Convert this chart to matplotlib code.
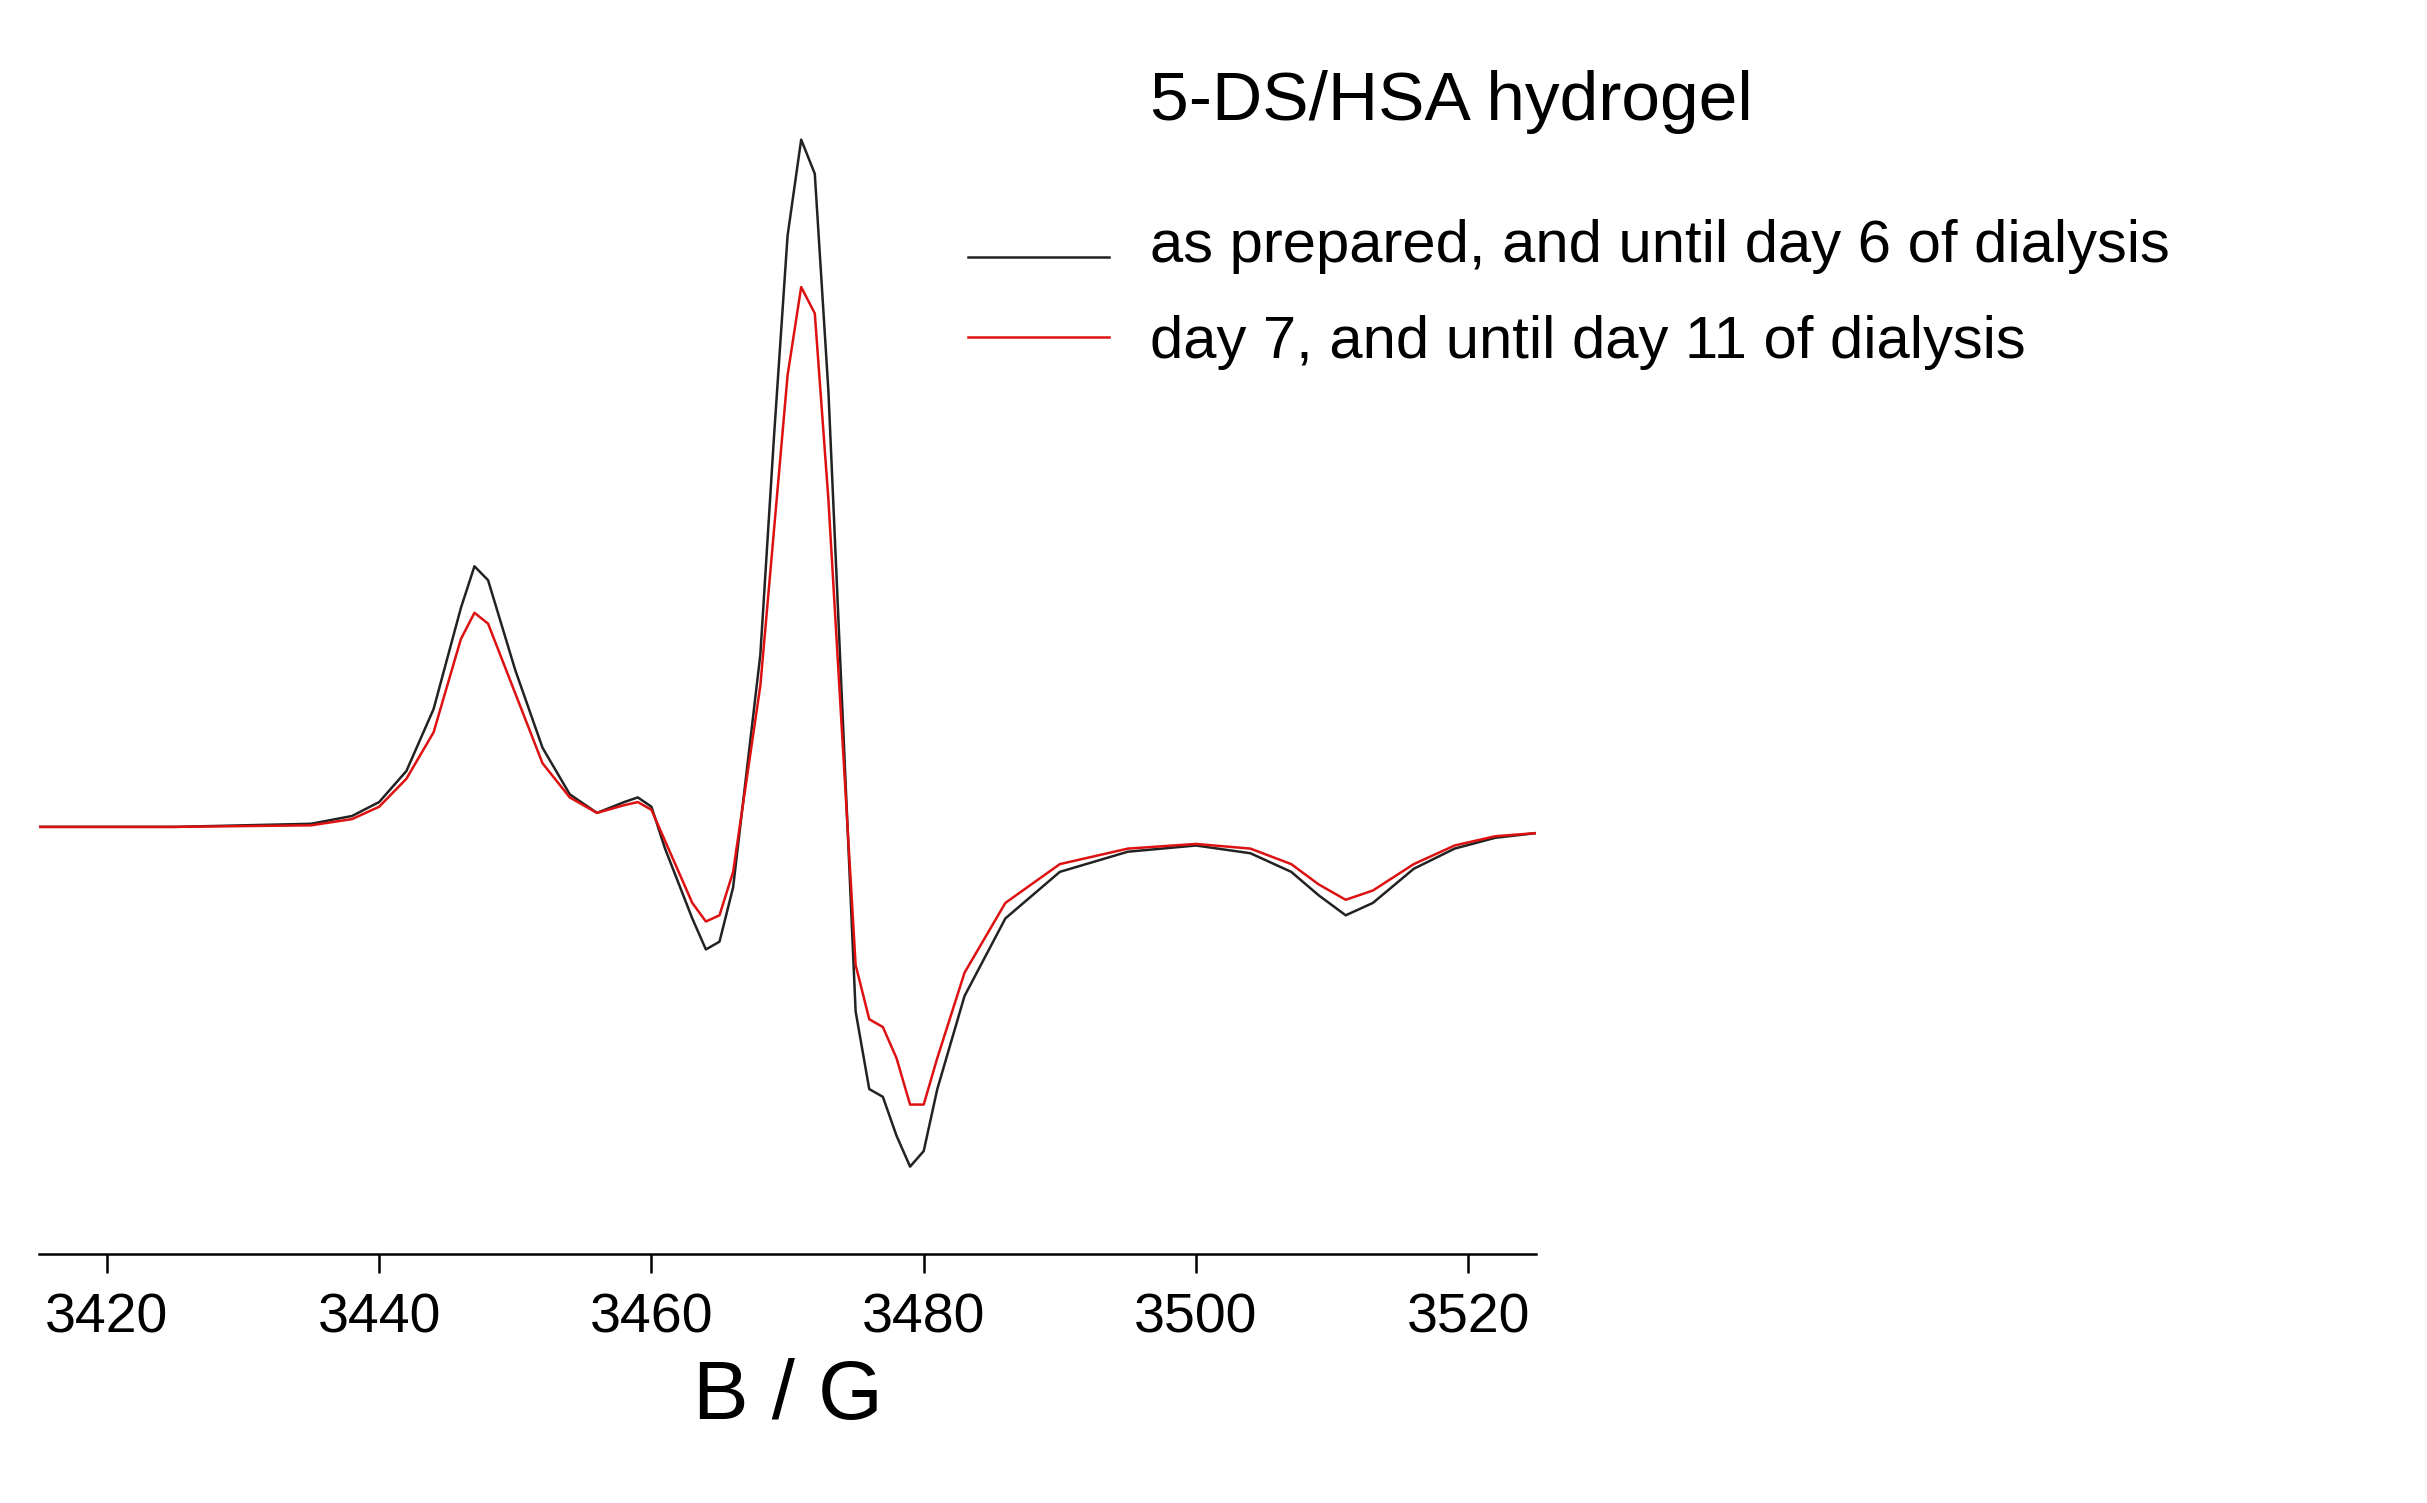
import matplotlib
matplotlib.use("Agg")
import matplotlib.pyplot as plt
from matplotlib.lines import Line2D

plt.rcParams['font.family'] = ['Liberation Sans', 'DejaVu Sans']

# field (G) and signal (arb. units)
b_black = [3415, 3425, 3435, 3438, 3440, 3442, 3444, 3446, 3447, 3448, 3450, 3452, 3454, 3456,
           3458, 3459, 3460, 3461, 3463, 3464, 3465, 3466, 3468, 3469, 3470, 3471, 3472, 3473,
           3474, 3475, 3476, 3477, 3478, 3479, 3480, 3481, 3483, 3486, 3490, 3495, 3500, 3504,
           3507, 3509, 3511, 3513, 3516, 3519, 3522, 3525]
y_black = [0, 0, 2, 7, 16, 36, 76, 141, 168, 159, 101, 51, 21, 9,
           16, 19, 13, -14, -59, -79, -74, -39, 111, 251, 381, 443, 421, 281,
           81, -119, -169, -174, -199, -219, -209, -169, -109, -59, -29, -16, -12, -17,
           -29, -44, -57, -49, -27, -14, -7, -4]
b_red = b_black
y_red = [0, 0, 1, 5, 13, 31, 61, 121, 138, 131, 86, 41, 19, 9,
         14, 16, 11, -9, -49, -61, -57, -29, 91, 191, 291, 348, 331, 211,
         61, -89, -124, -129, -149, -179, -179, -149, -94, -49, -24, -14, -11, -14,
         -24, -37, -47, -41, -24, -12, -6, -4]
ticks = [3420, 3440, 3460, 3480, 3500, 3520]

fig = plt.figure(figsize=(24.27, 15.03), dpi=100)
ax = fig.add_axes([0.016, 0.166, 0.617, 0.77])
ax.plot(b_black, y_black, color='#222222', lw=1.8)
ax.plot(b_red, y_red, color='#dd1111', lw=1.8)
ax.set_xlim(3415, 3525)
ax.set_ylim(-275, 471)
for s in ['top', 'right', 'left']:
    ax.spines[s].set_visible(False)
ax.spines['bottom'].set_linewidth(1.8)
ax.set_yticks([])
ax.set_xticks(ticks)
ax.tick_params(axis='x', labelsize=40, length=14, width=1.8, pad=14)
ax.set_xlabel('B / G', fontsize=60, labelpad=10)

fig.text(0.474, 0.932, '5-DS/HSA hydrogel', fontsize=50, va='center')
fig.add_artist(Line2D([0.399, 0.457], [0.829, 0.829], color='#222222', lw=1.8))
fig.add_artist(Line2D([0.399, 0.457], [0.776, 0.776], color='#dd1111', lw=1.8))
fig.text(0.474, 0.836, 'as prepared, and until day 6 of dialysis', fontsize=43, va='center')
fig.text(0.474, 0.772, 'day 7, and until day 11 of dialysis', fontsize=43, va='center')

fig.savefig('out.png', dpi=100)
